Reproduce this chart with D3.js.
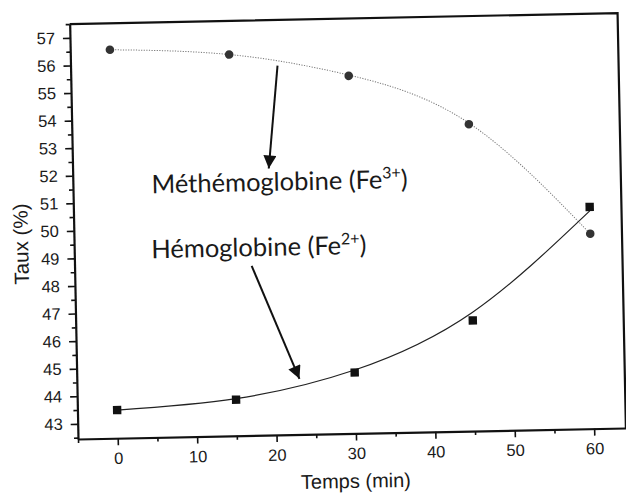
<!DOCTYPE html>
<html><head><meta charset="utf-8">
<script src="https://cdn.jsdelivr.net/npm/d3@7"></script>
<style>html,body{margin:0;padding:0;background:#fff;} svg{display:block;}</style>
</head><body>
<svg id="chart" width="626" height="494"></svg>
<script>
// ---- data ----
const times = [0, 15, 30, 45, 60];
const hemoglobine = [43.47, 43.76, 44.66, 46.46, 50.49];
const methemoglobine = [56.54, 56.28, 55.42, 53.58, 49.52];
const hemoFit = [43.47, 43.8, 44.75, 46.76, 50.35];
const metFit = [56.54, 56.28, 55.45, 53.62, 49.52];
const xTicks = [0, 10, 20, 30, 40, 50, 60];
const yTicks = [43, 44, 45, 46, 47, 48, 49, 50, 51, 52, 53, 54, 55, 56, 57];
const xTitle = "Temps (min)";
const yTitle = "Taux (%)";
const annoNames = ["Méthémoglobine (Fe", "Hémoglobine (Fe"];
const annoIons = ["3+", "2+"];
const annoX = [4.9, 4.7];
const annoY = [51.31, 48.95];
const arrowFrom = [[21.06, 55.84], [17.3, 48.6]];
const arrowTo = [[19.7, 52.12], [23.03, 44.47]];

// ---- layout ----
const W = 548, H = 415, mLeft = 78, mTop = 24, mBottom = 439;
const svg = d3.select("#chart");
svg.append("rect").attr("width", 626).attr("height", 494).attr("fill", "#fff");

const defs = svg.append("defs");
defs.append("marker").attr("id", "ah").attr("viewBox", "0 0 10 10")
  .attr("refX", 10).attr("refY", 5).attr("markerUnits", "userSpaceOnUse")
  .attr("markerWidth", 15).attr("markerHeight", 13).attr("orient", "auto")
  .append("path").attr("d", "M0,0 L10,5 L0,10 Z").attr("fill", "#111");

const g = svg.append("g")
  .attr("transform", `rotate(-1.15 ${mLeft} ${mBottom}) translate(${mLeft} ${mTop})`);

const x = d3.scaleLinear().domain([-5, 64]).range([0, W]);
const y = d3.scaleLinear().domain([42.45, 57.5]).range([H, 0]);

const font = "'Liberation Sans', Arial, sans-serif";

// minor ticks
const xMinor = d3.range(-5, 64, 5).filter(v => v % 10 !== 0);
const yMinor = d3.range(42.5, 57.6, 1);

g.append("g").attr("transform", `translate(0,${H})`)
  .call(d3.axisBottom(x).tickValues(xMinor).tickSize(4).tickSizeOuter(0).tickFormat(""))
  .call(a => a.select(".domain").remove())
  .selectAll("line").attr("stroke", "#111").attr("stroke-width", 1.6);
g.append("g")
  .call(d3.axisLeft(y).tickValues(yMinor).tickSize(4).tickSizeOuter(0).tickFormat(""))
  .call(a => a.select(".domain").remove())
  .selectAll("line").attr("stroke", "#111").attr("stroke-width", 1.6);

const xAxis = g.append("g").attr("transform", `translate(0,${H})`)
  .call(d3.axisBottom(x).tickValues(xTicks).tickSize(7).tickPadding(7).tickSizeOuter(0));
const yAxis = g.append("g")
  .call(d3.axisLeft(y).tickValues(yTicks).tickSize(7).tickPadding(8).tickSizeOuter(0));
[xAxis, yAxis].forEach(a => {
  a.select(".domain").attr("stroke", "#111").attr("stroke-width", 2.2);
  a.selectAll(".tick line").attr("stroke", "#111").attr("stroke-width", 1.6);
  a.selectAll(".tick text").attr("font-family", font).attr("font-size", 16.5).attr("fill", "#1a1a1a");
});

// frame top & right
g.append("path").attr("d", `M0,0 H${W} V${H}`).attr("fill", "none")
  .attr("stroke", "#111").attr("stroke-width", 2.2);

// titles
g.append("text").attr("transform", `translate(-46,219) rotate(-90)`)
  .attr("text-anchor", "middle").attr("font-family", font).attr("font-size", 20.5)
  .attr("fill", "#1a1a1a").text(yTitle);
g.append("text").attr("x", 277).attr("y", 469.5)
  .attr("text-anchor", "middle").attr("font-family", font).attr("font-size", 20)
  .attr("fill", "#1a1a1a").text(xTitle);

// fitted curves
const line = d3.line().x(d => x(d[0])).y(d => y(d[1])).curve(d3.curveNatural);
g.append("path").attr("d", line(times.map((t, i) => [t, metFit[i]])))
  .attr("fill", "none").attr("stroke", "#777").attr("stroke-width", 1)
  .attr("stroke-dasharray", "1.2,1.4");
g.append("path").attr("d", line(times.map((t, i) => [t, hemoFit[i]])))
  .attr("fill", "none").attr("stroke", "#222").attr("stroke-width", 1.2);

// markers
g.selectAll("circle.met").data(times).join("circle").attr("class", "met")
  .attr("cx", (t) => x(t)).attr("cy", (t, i) => y(methemoglobine[i]))
  .attr("r", 4.3).attr("fill", "#333");
g.selectAll("rect.hemo").data(times).join("rect").attr("class", "hemo")
  .attr("x", t => x(t) - 4.2).attr("y", (t, i) => y(hemoglobine[i]) - 4.2)
  .attr("width", 8.4).attr("height", 8.4).attr("fill", "#111");

// arrows
arrowFrom.forEach((p, i) => {
  g.append("line").attr("x1", x(p[0])).attr("y1", y(p[1]))
    .attr("x2", x(arrowTo[i][0])).attr("y2", y(arrowTo[i][1]))
    .attr("stroke", "#111").attr("stroke-width", 2).attr("marker-end", "url(#ah)");
});

// annotations
annoNames.forEach((n, i) => {
  const t = g.append("text").attr("x", x(annoX[i])).attr("y", y(annoY[i]))
    .attr("font-family", "Lato, 'Open Sans', sans-serif").attr("font-size", 25.5)
    .attr("fill", "#1a1a1a");
  t.append("tspan").text(n);
  t.append("tspan").attr("dy", -10).attr("font-size", 16).text(annoIons[i]);
  t.append("tspan").attr("dy", 10).text(")");
});
</script>
</body></html>
